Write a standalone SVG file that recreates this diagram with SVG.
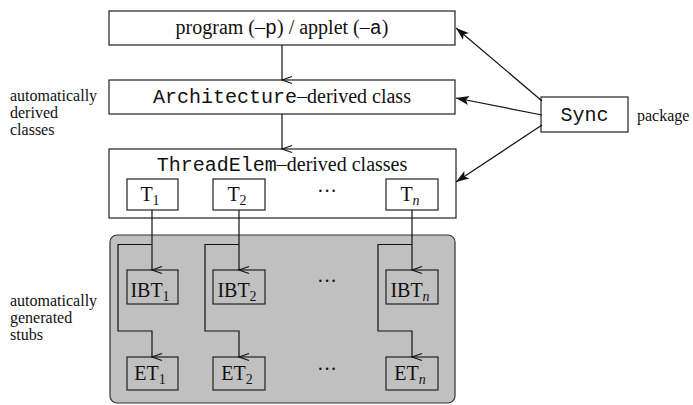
<svg xmlns="http://www.w3.org/2000/svg" width="693" height="405" viewBox="0 0 693 405">
<defs>
<style>
.box{fill:#fff;stroke:#222;stroke-width:1.2}
.ibox{fill:none;stroke:#222;stroke-width:1.2}
.t{font-family:"Liberation Serif","Times New Roman",serif;font-size:20px;fill:#111}
.m{font-family:"Liberation Mono","Courier New",monospace;font-size:20px}
.lab{font-family:"Liberation Serif","Times New Roman",serif;font-size:16px;fill:#111}
.sub{font-size:14px}
.c{fill:none;stroke:#111;stroke-width:1.2}
</style>
<marker id="v" markerWidth="10" markerHeight="12" viewBox="-5 -11 10 12" refX="0" refY="0" orient="auto" markerUnits="userSpaceOnUse">
<path d="M-3.5,-10 L0,0 L3.5,-10" fill="none" stroke="#111" stroke-width="1.1"/>
</marker>
<marker id="f" markerWidth="16" markerHeight="10" viewBox="-14 -5 15 10" refX="0" refY="0" orient="auto" markerUnits="userSpaceOnUse">
<path d="M0,0 L-13,-4.5 L-10,0 L-13,4.5 Z" fill="#111"/>
</marker>
</defs>

<g id="stubs-area">
<rect x="110" y="235" width="345" height="168" rx="7" fill="#c0c0c0" stroke="#333" stroke-width="1.2"/>
</g>

<g id="program">
<rect class="box" x="109" y="11" width="346" height="34"/>
<text class="t" x="282" y="34" text-anchor="middle">program (–<tspan class="m">p</tspan>) / applet (–<tspan class="m">a</tspan>)</text>
</g>

<g id="architecture">
<rect class="box" x="109" y="80" width="346" height="34"/>
<text class="t" x="282" y="103" text-anchor="middle"><tspan class="m">Architecture</tspan>–derived class</text>
</g>

<g id="threadelem">
<rect class="box" x="109" y="149" width="347" height="69"/>
<text class="t" x="282" y="171" text-anchor="middle"><tspan class="m">ThreadElem</tspan>–derived classes</text>
</g>

<g id="T1"><rect class="box" x="127" y="179" width="51" height="31"/><text class="t" x="150" y="201" text-anchor="middle">T<tspan class="sub" dy="4">1</tspan></text></g>
<g id="T2"><rect class="box" x="213" y="179" width="52" height="31"/><text class="t" x="237" y="201" text-anchor="middle">T<tspan class="sub" dy="4">2</tspan></text></g>
<g id="Tdots"><text class="t" x="327" y="198" text-anchor="middle">···</text></g>
<g id="Tn"><rect class="box" x="386" y="179" width="52" height="31"/><text class="t" x="410" y="201" text-anchor="middle">T<tspan class="sub" dy="4" font-style="italic">n</tspan></text></g>

<g id="IBT1"><rect class="ibox" x="127" y="270" width="51" height="34"/><text class="t" x="150" y="297" text-anchor="middle">IBT<tspan class="sub" dy="4">1</tspan></text></g>
<g id="IBT2"><rect class="ibox" x="213" y="270" width="52" height="34"/><text class="t" x="237" y="297" text-anchor="middle">IBT<tspan class="sub" dy="4">2</tspan></text></g>
<g id="IBTdots"><text class="t" x="327" y="288" text-anchor="middle">···</text></g>
<g id="IBTn"><rect class="ibox" x="386" y="270" width="52" height="34"/><text class="t" x="410" y="297" text-anchor="middle">IBT<tspan class="sub" dy="4" font-style="italic">n</tspan></text></g>

<g id="ET1"><rect class="ibox" x="127" y="357" width="51" height="33"/><text class="t" x="150" y="380" text-anchor="middle">ET<tspan class="sub" dy="4">1</tspan></text></g>
<g id="ET2"><rect class="ibox" x="213" y="357" width="52" height="33"/><text class="t" x="237" y="380" text-anchor="middle">ET<tspan class="sub" dy="4">2</tspan></text></g>
<g id="ETdots"><text class="t" x="327" y="376" text-anchor="middle">···</text></g>
<g id="ETn"><rect class="ibox" x="386" y="357" width="52" height="33"/><text class="t" x="410" y="380" text-anchor="middle">ET<tspan class="sub" dy="4" font-style="italic">n</tspan></text></g>

<g id="sync">
<rect class="box" x="541" y="97" width="87" height="35"/>
<text class="t m" x="584.5" y="121" text-anchor="middle">Sync</text>
</g>

<g id="labels">
<text class="lab" x="637" y="121">package</text>
<text class="lab" x="10" y="101">automatically</text>
<text class="lab" x="10" y="118">derived</text>
<text class="lab" x="10" y="135">classes</text>
<text class="lab" x="10" y="306">automatically</text>
<text class="lab" x="10" y="323">generated</text>
<text class="lab" x="10" y="340">stubs</text>
</g>

<g id="connectors">
<line class="c" x1="282" y1="45" x2="282" y2="80" marker-end="url(#v)"/>
<line class="c" x1="282" y1="114" x2="282" y2="149" marker-end="url(#v)"/>
<line class="c" x1="542" y1="101" x2="456" y2="28" marker-end="url(#f)"/>
<line class="c" x1="542" y1="115" x2="456" y2="98" marker-end="url(#f)"/>
<line class="c" x1="542" y1="125" x2="456" y2="182" marker-end="url(#f)"/>

<line class="c" x1="152" y1="210" x2="152" y2="270" marker-end="url(#v)"/>
<polyline class="c" points="152,244.5 118,244.5 118,331 152,331 152,357" marker-end="url(#v)"/>
<line class="c" x1="239" y1="210" x2="239" y2="270" marker-end="url(#v)"/>
<polyline class="c" points="239,244.5 205,244.5 205,331 239,331 239,357" marker-end="url(#v)"/>
<line class="c" x1="412" y1="210" x2="412" y2="270" marker-end="url(#v)"/>
<polyline class="c" points="412,244.5 378,244.5 378,331 412,331 412,357" marker-end="url(#v)"/>
</g>
</svg>
